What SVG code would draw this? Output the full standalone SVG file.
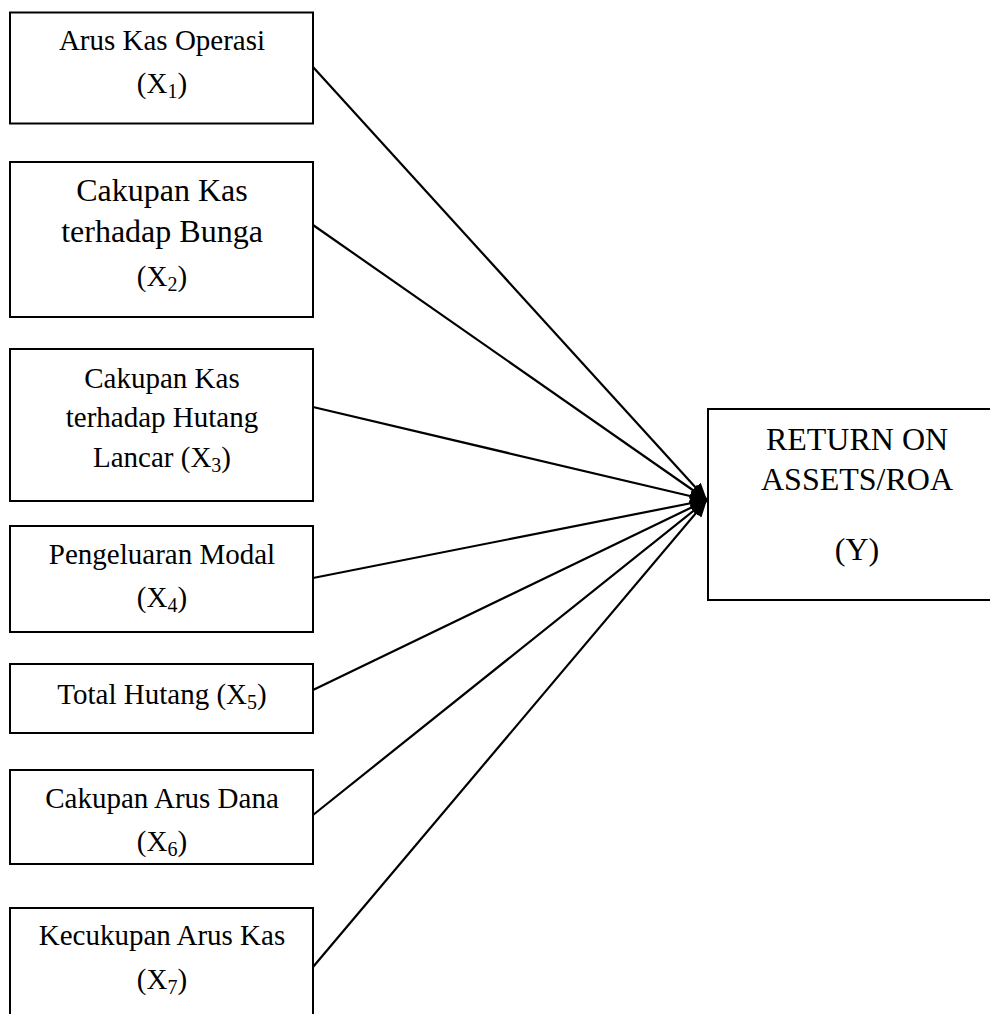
<svg xmlns="http://www.w3.org/2000/svg" width="990" height="1014" viewBox="0 0 990 1014">
<style>
.box{fill:#fff;stroke:#000;stroke-width:2}
.t{font-family:"Liberation Serif","Times New Roman",serif;font-size:29px;fill:#000;text-anchor:middle}
.big{font-size:32px}
.sub{font-size:20px}
.conn{stroke:#000;stroke-width:2.2;fill:none;marker-end:url(#ah)}
</style>
<defs>
<marker id="ah" markerUnits="userSpaceOnUse" markerWidth="18" markerHeight="14" refX="17" refY="7" orient="auto">
<path d="M0,0 L17,7 L0,14 Z" fill="#000"/>
</marker>
</defs>
<rect width="990" height="1014" fill="#fff"/>
<g id="connectors">
<line class="conn" x1="313" y1="67" x2="707" y2="500"/>
<line class="conn" x1="313" y1="225" x2="707" y2="500"/>
<line class="conn" x1="313" y1="407" x2="707" y2="500"/>
<line class="conn" x1="313" y1="578" x2="707" y2="500"/>
<line class="conn" x1="313" y1="690" x2="707" y2="500"/>
<line class="conn" x1="313" y1="815" x2="707" y2="500"/>
<line class="conn" x1="313" y1="967" x2="707" y2="500"/>
</g>
<g id="x1">
<rect class="box" x="10" y="12.5" width="303" height="111"/>
<text class="t" x="162" y="50">Arus Kas Operasi</text>
<text class="t" x="162" y="93">(X<tspan class="sub" dy="5">1</tspan><tspan dy="-5">)</tspan></text>
</g>
<g id="x2">
<rect class="box" x="10" y="162" width="303" height="155"/>
<text class="t big" x="162" y="201">Cakupan Kas</text>
<text class="t big" x="162" y="242">terhadap Bunga</text>
<text class="t" x="162" y="286">(X<tspan class="sub" dy="5">2</tspan><tspan dy="-5">)</tspan></text>
</g>
<g id="x3">
<rect class="box" x="10" y="349" width="303" height="152"/>
<text class="t" x="162" y="388">Cakupan Kas</text>
<text class="t" x="162" y="427">terhadap Hutang</text>
<text class="t" x="162" y="467">Lancar (X<tspan class="sub" dy="5">3</tspan><tspan dy="-5">)</tspan></text>
</g>
<g id="x4">
<rect class="box" x="10" y="526" width="303" height="106"/>
<text class="t" x="162" y="564">Pengeluaran Modal</text>
<text class="t" x="162" y="607">(X<tspan class="sub" dy="5">4</tspan><tspan dy="-5">)</tspan></text>
</g>
<g id="x5">
<rect class="box" x="10" y="664" width="303" height="69"/>
<text class="t" x="162" y="704">Total Hutang (X<tspan class="sub" dy="5">5</tspan><tspan dy="-5">)</tspan></text>
</g>
<g id="x6">
<rect class="box" x="10" y="770" width="303" height="94"/>
<text class="t" x="162" y="808">Cakupan Arus Dana</text>
<text class="t" x="162" y="851">(X<tspan class="sub" dy="5">6</tspan><tspan dy="-5">)</tspan></text>
</g>
<g id="x7">
<rect class="box" x="10" y="908" width="303" height="130"/>
<text class="t" x="162" y="945">Kecukupan Arus Kas</text>
<text class="t" x="162" y="989">(X<tspan class="sub" dy="5">7</tspan><tspan dy="-5">)</tspan></text>
</g>
<g id="y">
<rect class="box" x="708" y="409" width="300" height="191"/>
<text class="t big" x="857" y="450">RETURN ON</text>
<text class="t big" x="857" y="490">ASSETS/ROA</text>
<text class="t big" x="857" y="560">(Y)</text>
</g>
</svg>
